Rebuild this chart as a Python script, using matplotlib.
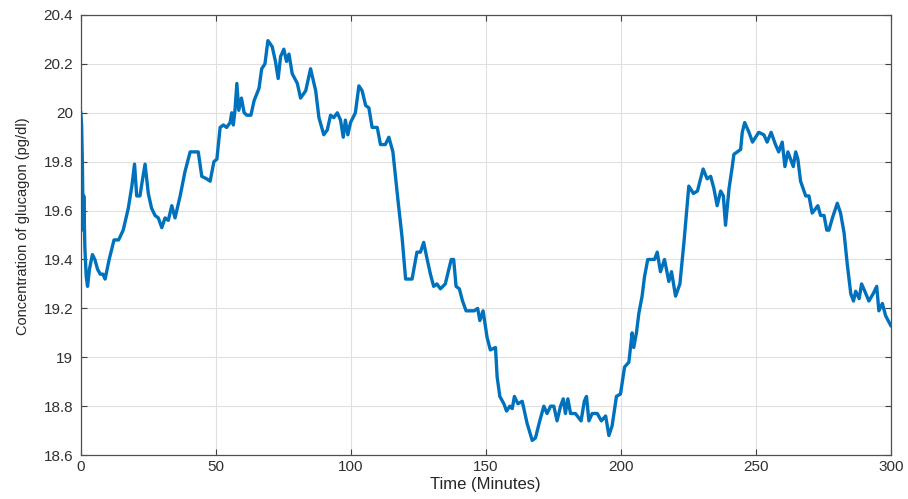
import numpy as np
import matplotlib.pyplot as plt

# time (minutes) and glucagon concentration (pg/dl)
time_min = [0, 0.3, 0.6, 0.9, 1.1, 1.5, 2.0, 2.5, 3.2, 4.3, 5.2, 6.2, 7.2, 8.2, 9.0,
            10.5, 12.3, 14.0, 15.7, 17.6, 18.9, 19.9, 20.7, 21.9, 22.9, 23.8, 25.0,
            26.2, 27.5, 28.7, 30.0, 31.2, 32.4, 33.7, 34.9, 36.8, 38.6, 40.5, 43.5,
            44.8, 46.6, 47.9, 49.3, 50.4, 51.6, 52.8, 54.0, 55.3, 55.9, 56.5, 57.1,
            57.8, 58.5, 59.5, 60.5, 61.5, 63.0, 64.2, 66.0, 67.0, 68.2, 69.3, 70.9,
            72.1, 73.1, 74.0, 75.2, 76.2, 77.1, 78.3, 80.2, 81.4, 83.3, 85.1, 87.0,
            88.2, 90.0, 91.3, 92.5, 93.7, 95.0, 96.2, 97.2, 98.0, 98.9, 99.9, 101.7,
            103.0, 104.2, 105.5, 106.7, 107.9, 109.8, 111.0, 112.8, 114.1, 115.6,
            117.5, 119.0, 120.3, 122.7, 124.5, 125.8, 127.0, 128.3, 129.5, 130.7,
            131.9, 133.2, 135.0, 137.2, 138.1, 139.0, 140.2, 141.4, 142.7, 144.1,
            145.7, 147.0, 147.8, 149.0, 150.5, 151.7, 153.6, 154.2, 155.2, 156.7,
            157.7, 158.9, 159.8, 160.6, 161.9, 163.5, 165.3, 167.2, 168.4, 170.0,
            171.5, 172.7, 174.0, 175.2, 176.4, 177.7, 178.7, 179.5, 180.4, 181.4,
            183.2, 185.3, 186.5, 187.3, 188.2, 189.4, 191.3, 192.8, 194.4, 195.6,
            196.8, 198.4, 199.9, 201.4, 203.0, 204.2, 204.8, 205.8, 206.7, 207.9,
            208.8, 210.0, 211.3, 212.5, 213.5, 214.7, 216.2, 217.8, 218.8, 220.3,
            221.9, 223.4, 225.2, 226.9, 228.4, 230.5, 232.0, 233.3, 234.5, 235.7,
            237.0, 238.0, 238.8, 240.1, 241.3, 241.9, 244.4, 245.0, 245.9, 247.5,
            248.8, 251.1, 253.0, 254.2, 255.7, 257.3, 258.5, 259.8, 260.8, 261.9,
            262.9, 263.9, 264.8, 265.6, 266.6, 268.5, 269.7, 270.9, 273.0, 274.0,
            275.3, 276.3, 277.1, 278.4, 280.2, 281.4, 282.7, 283.9, 285.2, 286.2,
            287.0, 288.3, 289.2, 290.4, 291.9, 293.5, 294.8, 295.6, 296.9, 298.1,
            300.0]
glucagon = [20.00, 19.95, 19.78, 19.52, 19.66, 19.45, 19.33, 19.29, 19.36, 19.42, 19.40,
            19.36, 19.34, 19.34, 19.32, 19.40, 19.48, 19.48, 19.52, 19.61, 19.70,
            19.79, 19.66, 19.66, 19.73, 19.79, 19.67, 19.61, 19.58, 19.57, 19.53,
            19.57, 19.56, 19.62, 19.57, 19.66, 19.76, 19.84, 19.84, 19.74, 19.73,
            19.72, 19.80, 19.81, 19.94, 19.95, 19.94, 19.96, 20.00, 19.95, 20.01,
            20.12, 20.01, 20.06, 20.00, 19.99, 19.99, 20.05, 20.10, 20.18, 20.20,
            20.295, 20.27, 20.21, 20.14, 20.23, 20.26, 20.21, 20.24, 20.16, 20.12,
            20.06, 20.09, 20.18, 20.09, 19.98, 19.91, 19.93, 19.99, 19.98, 20.00,
            19.97, 19.90, 19.97, 19.91, 19.96, 20.00, 20.11, 20.09, 20.03, 20.02,
            19.94, 19.94, 19.87, 19.87, 19.90, 19.84, 19.64, 19.49, 19.32, 19.32,
            19.43, 19.43, 19.47, 19.40, 19.34, 19.29, 19.30, 19.28, 19.30, 19.40,
            19.40, 19.29, 19.28, 19.23, 19.19, 19.19, 19.19, 19.20, 19.15, 19.19,
            19.08, 19.03, 19.04, 18.92, 18.84, 18.81, 18.78, 18.80, 18.79, 18.84,
            18.81, 18.82, 18.73, 18.66, 18.67, 18.74, 18.80, 18.77, 18.80, 18.80,
            18.74, 18.80, 18.83, 18.77, 18.83, 18.77, 18.77, 18.74, 18.82, 18.84,
            18.74, 18.77, 18.77, 18.74, 18.76, 18.68, 18.72, 18.84, 18.85, 18.96,
            18.98, 19.10, 19.04, 19.10, 19.18, 19.25, 19.33, 19.40, 19.40, 19.40,
            19.43, 19.35, 19.40, 19.31, 19.35, 19.25, 19.30, 19.47, 19.70, 19.67,
            19.68, 19.77, 19.73, 19.74, 19.69, 19.62, 19.68, 19.66, 19.54, 19.69,
            19.78, 19.83, 19.85, 19.92, 19.96, 19.92, 19.88, 19.92, 19.91, 19.88,
            19.92, 19.87, 19.84, 19.88, 19.78, 19.84, 19.81, 19.78, 19.84, 19.81,
            19.72, 19.66, 19.66, 19.59, 19.62, 19.58, 19.58, 19.52, 19.52, 19.57,
            19.63, 19.59, 19.51, 19.38, 19.26, 19.23, 19.27, 19.24, 19.30, 19.27,
            19.23, 19.26, 19.29, 19.19, 19.22, 19.17, 19.13]

x_ticks = [0, 50, 100, 150, 200, 250, 300]
y_ticks = [18.6, 18.8, 19, 19.2, 19.4, 19.6, 19.8, 20, 20.2, 20.4]
y_tick_labels = ['18.6', '18.8', '19', '19.2', '19.4', '19.6', '19.8', '20', '20.2', '20.4']

plt.rcParams['font.family'] = ['Liberation Sans', 'DejaVu Sans']

fig = plt.figure(figsize=(9.08, 4.99), dpi=100)
ax = fig.add_axes([0.089, 0.088, 0.892, 0.882])

ax.plot(time_min, glucagon, color='#0072BD', linewidth=2.4, solid_joinstyle='round')

ax.set_xlim(0, 300)
ax.set_ylim(18.6, 20.4)
ax.set_xticks(x_ticks)
ax.set_yticks(y_ticks)
ax.set_yticklabels(y_tick_labels)
ax.grid(True, color='#e0e0e0', linewidth=0.8)
ax.set_axisbelow(True)

ax.tick_params(direction='in', top=True, right=True, length=4, width=0.8,
               color='#404040', labelsize=11, labelcolor='#303030')
ax.tick_params(axis='y', pad=5.5)
ax.tick_params(axis='x', pad=3.5)
for s in ax.spines.values():
    s.set_color('#505050')
    s.set_linewidth(0.9)

ax.set_xlabel('Time (Minutes)', fontsize=12, color='#262626')
ax.set_ylabel('Concentration of glucagon (pg/dl)', fontsize=10.5, color='#262626')
ax.xaxis.set_label_coords(0.5, -0.05)
ax.yaxis.set_label_coords(-0.063, 0.52)

fig.savefig('out.png', dpi=100)
